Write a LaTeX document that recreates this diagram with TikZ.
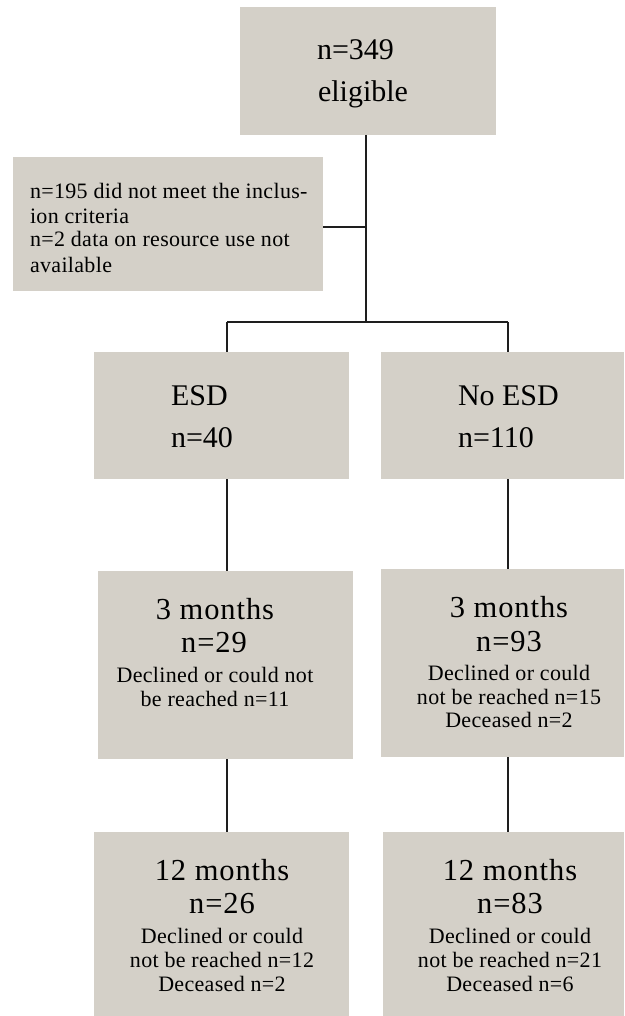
\documentclass[tikz,border=0pt]{standalone}
\usepackage{fontspec}
\setmainfont{Liberation Serif}
\newfontfamily\smallf[LetterSpace=1.5]{Liberation Serif}
\newfontfamily\bigf[LetterSpace=3]{Liberation Serif}
\definecolor{boxgray}{RGB}{212,208,200}
\definecolor{linec}{RGB}{30,30,30}
\begin{document}
\begin{tikzpicture}[x=1pt,y=-1pt,
  box/.style={fill=boxgray, draw=none, inner sep=0pt, outer sep=0pt, anchor=north west},
  txt/.style={inner sep=0pt, outer sep=0pt, anchor=base},
  txtl/.style={inner sep=0pt, outer sep=0pt, anchor=base west},
  big/.style={font=\bigf\fontsize{30.5}{34}\selectfont},
  mid/.style={font=\fontsize{30}{34}\selectfont},
  sml/.style={font=\smallf\fontsize{22}{24}\selectfont},
  conn/.style={draw=linec, line width=1.3pt}]
\useasboundingbox (0,0) rectangle (624,1016);
% boxes
\node[box, minimum width=256pt, minimum height=128pt] (top) at (240,7) {};
\node[box, minimum width=310pt, minimum height=134pt] (side) at (13,157) {};
\node[box, minimum width=255pt, minimum height=127pt] (esd) at (94,352) {};
\node[box, minimum width=243pt, minimum height=127pt] (noesd) at (381,352) {};
\node[box, minimum width=255pt, minimum height=188pt] (m3a) at (98,571) {};
\node[box, minimum width=243pt, minimum height=188pt] (m3b) at (381,569) {};
\node[box, minimum width=255pt, minimum height=184pt] (m12a) at (94,832) {};
\node[box, minimum width=241pt, minimum height=184pt] (m12b) at (383,832) {};
% junction coordinates
\coordinate (j) at (366,322);
\coordinate (jl) at (227,322);
\coordinate (jr) at (508,322);
% connectors
\draw[conn] (top.south -| j) -- (j);
\draw[conn] ([yshift=-3pt]side.east) -- ([yshift=-3pt]side.east -| j);
\draw[conn] (jl) -- (jr);
\draw[conn] (jl) -- (esd.north -| jl);
\draw[conn] (jr) -- (noesd.north -| jr);
\draw[conn] (esd.south -| jl) -- (m3a.north -| jl);
\draw[conn] (noesd.south -| jr) -- (m3b.north -| jr);
\draw[conn] (m3a.south -| jl) -- (m12a.north -| jl);
\draw[conn] (m3b.south -| jr) -- (m12b.north -| jr);
% texts
\node[txtl, mid] (t1) at (317,60) {n=349};
\node[txtl, mid] (t2) at (318,102) {eligible};
\node[txtl, sml] (s1) at (30,199) {n=195 did not meet the inclus-};
\node[txtl, sml] (s2) at (30,223) {ion criteria};
\node[txtl, sml] (s3) at (30,247) {n=2 data on resource use not};
\node[txtl, sml] (s4) at (30,272) {available};
\node[txtl, mid] (e1) at (171,405) {ESD};
\node[txtl, mid] (e2) at (171,447) {n=40};
\node[txtl, mid] (f1) at (458,405) {No ESD};
\node[txtl, mid] (f2) at (458,447) {n=110};
\node[txt, big] (a1) at (215,619) {3 months};
\node[txt, big] (a2) at (214,652) {n=29};
\node[txt, sml] (a3) at (215,682) {Declined or could not};
\node[txt, sml] (a4) at (215,706) {be reached n=11};
\node[txt, big] (b1) at (509,617) {3 months};
\node[txt, big] (b2) at (509,651) {n=93};
\node[txt, sml] (b3) at (509,680) {Declined or could};
\node[txt, sml] (b4) at (509,704) {not be reached n=15};
\node[txt, sml] (b5) at (509,727) {Deceased n=2};
\node[txt, big] (c1) at (222,880) {12 months};
\node[txt, big] (c2) at (222,913) {n=26};
\node[txt, sml] (c3) at (222,943) {Declined or could};
\node[txt, sml] (c4) at (222,967) {not be reached n=12};
\node[txt, sml] (c5) at (222,991) {Deceased n=2};
\node[txt, big] (d1) at (510,880) {12 months};
\node[txt, big] (d2) at (510,913) {n=83};
\node[txt, sml] (d3) at (510,943) {Declined or could};
\node[txt, sml] (d4) at (510,967) {not be reached n=21};
\node[txt, sml] (d5) at (510,991) {Deceased n=6};
\end{tikzpicture}
\end{document}
